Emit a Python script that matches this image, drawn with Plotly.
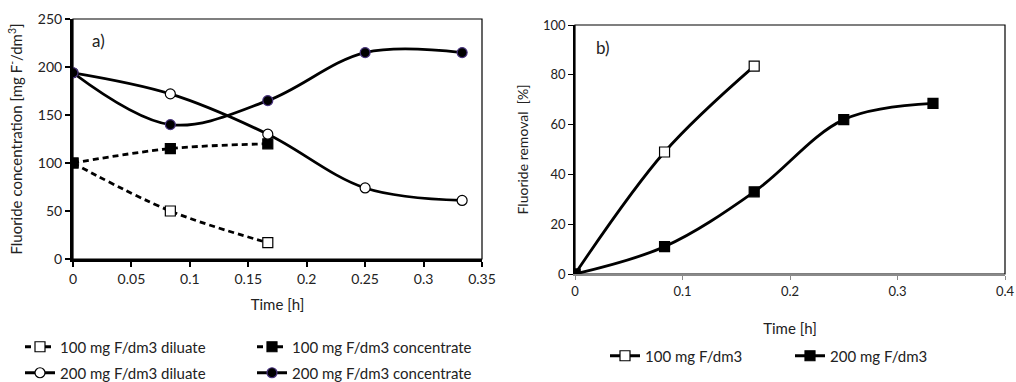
import plotly.graph_objects as go

# ---- data: panel a ----
time_a_short = [0, 0.0833, 0.1667]
time_a_long = [0, 0.0833, 0.1667, 0.25, 0.333]
dil_100 = [100, 50, 17]
conc_100 = [100, 115, 120]
dil_200 = [194, 172, 130, 74, 61]
conc_200 = [194, 140, 165, 215, 215]

# ---- data: panel b ----
time_b_short = [0, 0.0833, 0.1667]
time_b_long = [0, 0.0833, 0.1667, 0.25, 0.333]
rem_100 = [0, 49, 83.5]
rem_200 = [0, 11, 33, 62, 68.5]

FONT = "Lato"
W, H = 1016, 382

fig = go.Figure()

def add(x, y, name, xa, ya, legend, symbol, fill, edge, dash, size):
    fig.add_trace(go.Scatter(
        x=x, y=y, name=name, xaxis=xa, yaxis=ya, legend=legend,
        mode="lines+markers",
        line=dict(color="black", width=2.8, dash=dash, shape="spline", smoothing=1),
        marker=dict(symbol=symbol, size=size, color=fill, line=dict(color=edge, width=1.2)),
    ))

add(time_a_short, dil_100, "100 mg F/dm3 diluate", "x", "y", "legend", "square", "white", "black", "6px,4px", 10)
add(time_a_short, conc_100, "100 mg F/dm3 concentrate", "x", "y", "legend", "square", "black", "black", "6px,4px", 10)
add(time_a_long, dil_200, "200 mg F/dm3 diluate", "x", "y", "legend2", "circle", "white", "black", "solid", 10)
add(time_a_long, conc_200, "200 mg F/dm3 concentrate", "x", "y", "legend2", "circle", "black", "#4a3580", "solid", 10)

add(time_b_short, rem_100, "100 mg F/dm3", "x2", "y2", "legend3", "square", "white", "black", "solid", 10)
add(time_b_long, rem_200, "200 mg F/dm3", "x2", "y2", "legend3", "square", "black", "black", "solid", 10)

# domains from pixel geometry
ax_l, ax_r, ax_t, ax_b = 73, 482, 19, 259
bx_l, bx_r, bx_t, bx_b = 575, 1005, 25, 274

tickfont_a = dict(family=FONT, size=14, color="#222")
tickfont_b = dict(family=FONT, size=13, color="#222")

fig.update_layout(
    width=W, height=H,
    margin=dict(l=0, r=0, t=0, b=0, autoexpand=False),
    paper_bgcolor="white", plot_bgcolor="white",
    font=dict(family=FONT, color="#222"),
    showlegend=True,
    xaxis=dict(domain=[ax_l / W, ax_r / W], range=[0, 0.35], dtick=0.05, tick0=0, automargin=False,
               showgrid=False, zeroline=False, showline=True, linecolor="black", linewidth=3,
               ticks="outside", ticklen=5, tickwidth=1.5, tickcolor="black",
               tickfont=tickfont_a, anchor="y",
               title=dict(text="Time [h]", font=dict(family=FONT, size=15, color="#222"), standoff=14)),
    yaxis=dict(domain=[1 - ax_b / H, 1 - ax_t / H], range=[0, 250], dtick=50, automargin=False,
               showgrid=False, zeroline=False, showline=True, linecolor="black", linewidth=3,
               ticks="outside", ticklen=5, tickwidth=1.5, tickcolor="black",
               tickfont=tickfont_a, anchor="x",
               title=dict(text="Fluoride concentration [mg F<sup>-</sup>/dm<sup>3</sup>]",
                          font=dict(family=FONT, size=15, color="#222"), standoff=12)),
    xaxis2=dict(domain=[bx_l / W, bx_r / W], range=[0, 0.4], dtick=0.1, tick0=0, automargin=False,
                showgrid=False, zeroline=False, showline=True, linecolor="#8a8a8a", linewidth=2,
                ticks="outside", ticklen=4, tickwidth=1, tickcolor="#8a8a8a",
                tickfont=tickfont_b, anchor="y2",
                title=dict(text="Time [h]", font=dict(family=FONT, size=15, color="#222"), standoff=26)),
    yaxis2=dict(domain=[1 - bx_b / H, 1 - bx_t / H], range=[0, 100], dtick=20, automargin=False,
                showgrid=False, zeroline=False, showline=True, linecolor="black", linewidth=1.5,
                ticks="outside", ticklen=5, tickwidth=1, tickcolor="black",
                tickfont=tickfont_b, anchor="x2",
                title=dict(text="Fluoride removal  [%]", font=dict(family=FONT, size=14, color="#222"), standoff=11)),
    legend=dict(orientation="h", x=20 / W, y=1 - 347 / H, xanchor="left", yanchor="middle",
                entrywidth=187, entrywidthmode="pixels", font=dict(family=FONT, size=15, color="#222"),
                bgcolor="rgba(0,0,0,0)", tracegroupgap=0),
    legend2=dict(orientation="h", x=20 / W, y=1 - 373 / H, xanchor="left", yanchor="middle",
                 entrywidth=187, entrywidthmode="pixels", font=dict(family=FONT, size=15, color="#222"),
                 bgcolor="rgba(0,0,0,0)", tracegroupgap=0),
    legend3=dict(orientation="h", x=605 / W, y=1 - 356 / H, xanchor="left", yanchor="middle",
                 entrywidth=140, entrywidthmode="pixels", font=dict(family=FONT, size=15, color="#222"),
                 bgcolor="rgba(0,0,0,0)", tracegroupgap=0),
)

# thin frames (top / right borders)
for xr, yr in (("x domain", "y domain"), ("x2 domain", "y2 domain")):
    fig.add_shape(type="rect", xref=xr, yref=yr, x0=0, x1=1, y0=0, y1=1,
                  line=dict(color="black", width=1.2), layer="below")

fig.add_annotation(text="a)", xref="paper", yref="paper", x=90 / W, y=1 - 40 / H,
                   xanchor="left", yanchor="middle", showarrow=False,
                   font=dict(family=FONT, size=17, color="#222"))
fig.add_annotation(text="b)", xref="paper", yref="paper", x=594 / W, y=1 - 47 / H,
                   xanchor="left", yanchor="middle", showarrow=False,
                   font=dict(family=FONT, size=17, color="#222"))

fig.write_html("out.html", config={"displayModeBar": False},
               post_script="document.body.style.margin='0px';document.body.style.overflow='hidden';")
